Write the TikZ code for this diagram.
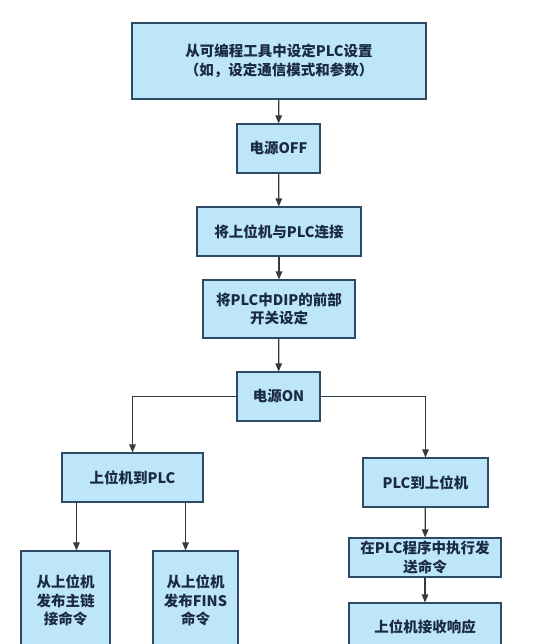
\documentclass[tikz,border=0pt]{standalone}
\usepackage{fontspec}
\newfontfamily\cjk{Noto Sans CJK SC}
\usetikzlibrary{arrows.meta,calc}
\definecolor{boxfill}{HTML}{BDE6F8}
\definecolor{boxline}{HTML}{2E4A66}
\definecolor{txt}{HTML}{1B2A44}
\definecolor{arr}{HTML}{333A40}
\begin{document}
\begin{tikzpicture}[x=1pt,y=-1pt,
  box/.style={draw=boxline,fill=boxfill,line width=1.1pt,inner sep=0pt,align=center,
    font=\cjk\bfseries\fontsize{14.5}{18.5}\selectfont,text=txt},
  conn/.style={draw=arr,line width=1.2pt,-{Triangle[length=8pt,width=6.5pt]}}]
\useasboundingbox (0,0) rectangle (555,644);
\clip (0,0) rectangle (555,644);
\fill[white] (0,0) rectangle (555,644);
\node[box,minimum width=294pt,minimum height=76pt] (b1) at (279,61) {从可编程工具中设定PLC设置\\（如，设定通信模式和参数）};
\node[box,minimum width=83pt,minimum height=49pt] (b2) at (278.5,148.5) {电源OFF};
\node[box,minimum width=164pt,minimum height=49pt] (b3) at (279,231.5) {将上位机与PLC连接};
\node[box,minimum width=152pt,minimum height=58pt] (b4) at (279,309) {将PLC中DIP的前部\\开关设定};
\node[box,minimum width=83pt,minimum height=49pt] (b5) at (278.5,396.5) {电源ON};
\node[box,minimum width=141pt,minimum height=49pt] (b6) at (132.5,477.5) {上位机到PLC};
\node[box,minimum width=125pt,minimum height=49pt] (b7) at (425.5,482.5) {PLC到上位机};
\node[box,minimum width=89pt,minimum height=99pt] (b8) at (65.5,600.5) {从上位机\\发布主链\\接命令};
\node[box,minimum width=85pt,minimum height=99pt] (b9) at (195.5,600.5) {从上位机\\发布FINS\\命令};
\node[box,minimum width=152pt,minimum height=39pt] (b10) at (425,557.5) {在PLC程序中执行发\\送命令};
\node[box,minimum width=152pt,minimum height=48pt] (b11) at (425,627) {上位机接收响应};
\coordinate (c8) at ($(b6.south west)+(15,0)$);
\coordinate (c9) at ($(b6.south east)+(-18,0)$);
\draw[conn] (b1) -- (b2);
\draw[conn] (b2) -- (b3);
\draw[conn] (b3) -- (b4);
\draw[conn] (b4) -- (b5);
\draw[conn] (b5.west) -| (b6.north);
\draw[conn] (b5.east) -| (b7.north);
\draw[conn] (c8) -- (c8 |- b8.north);
\draw[conn] (c9) -- (c9 |- b9.north);
\draw[conn] (b7) -- (b10);
\draw[conn] (b10) -- (b11);
\end{tikzpicture}
\end{document}
